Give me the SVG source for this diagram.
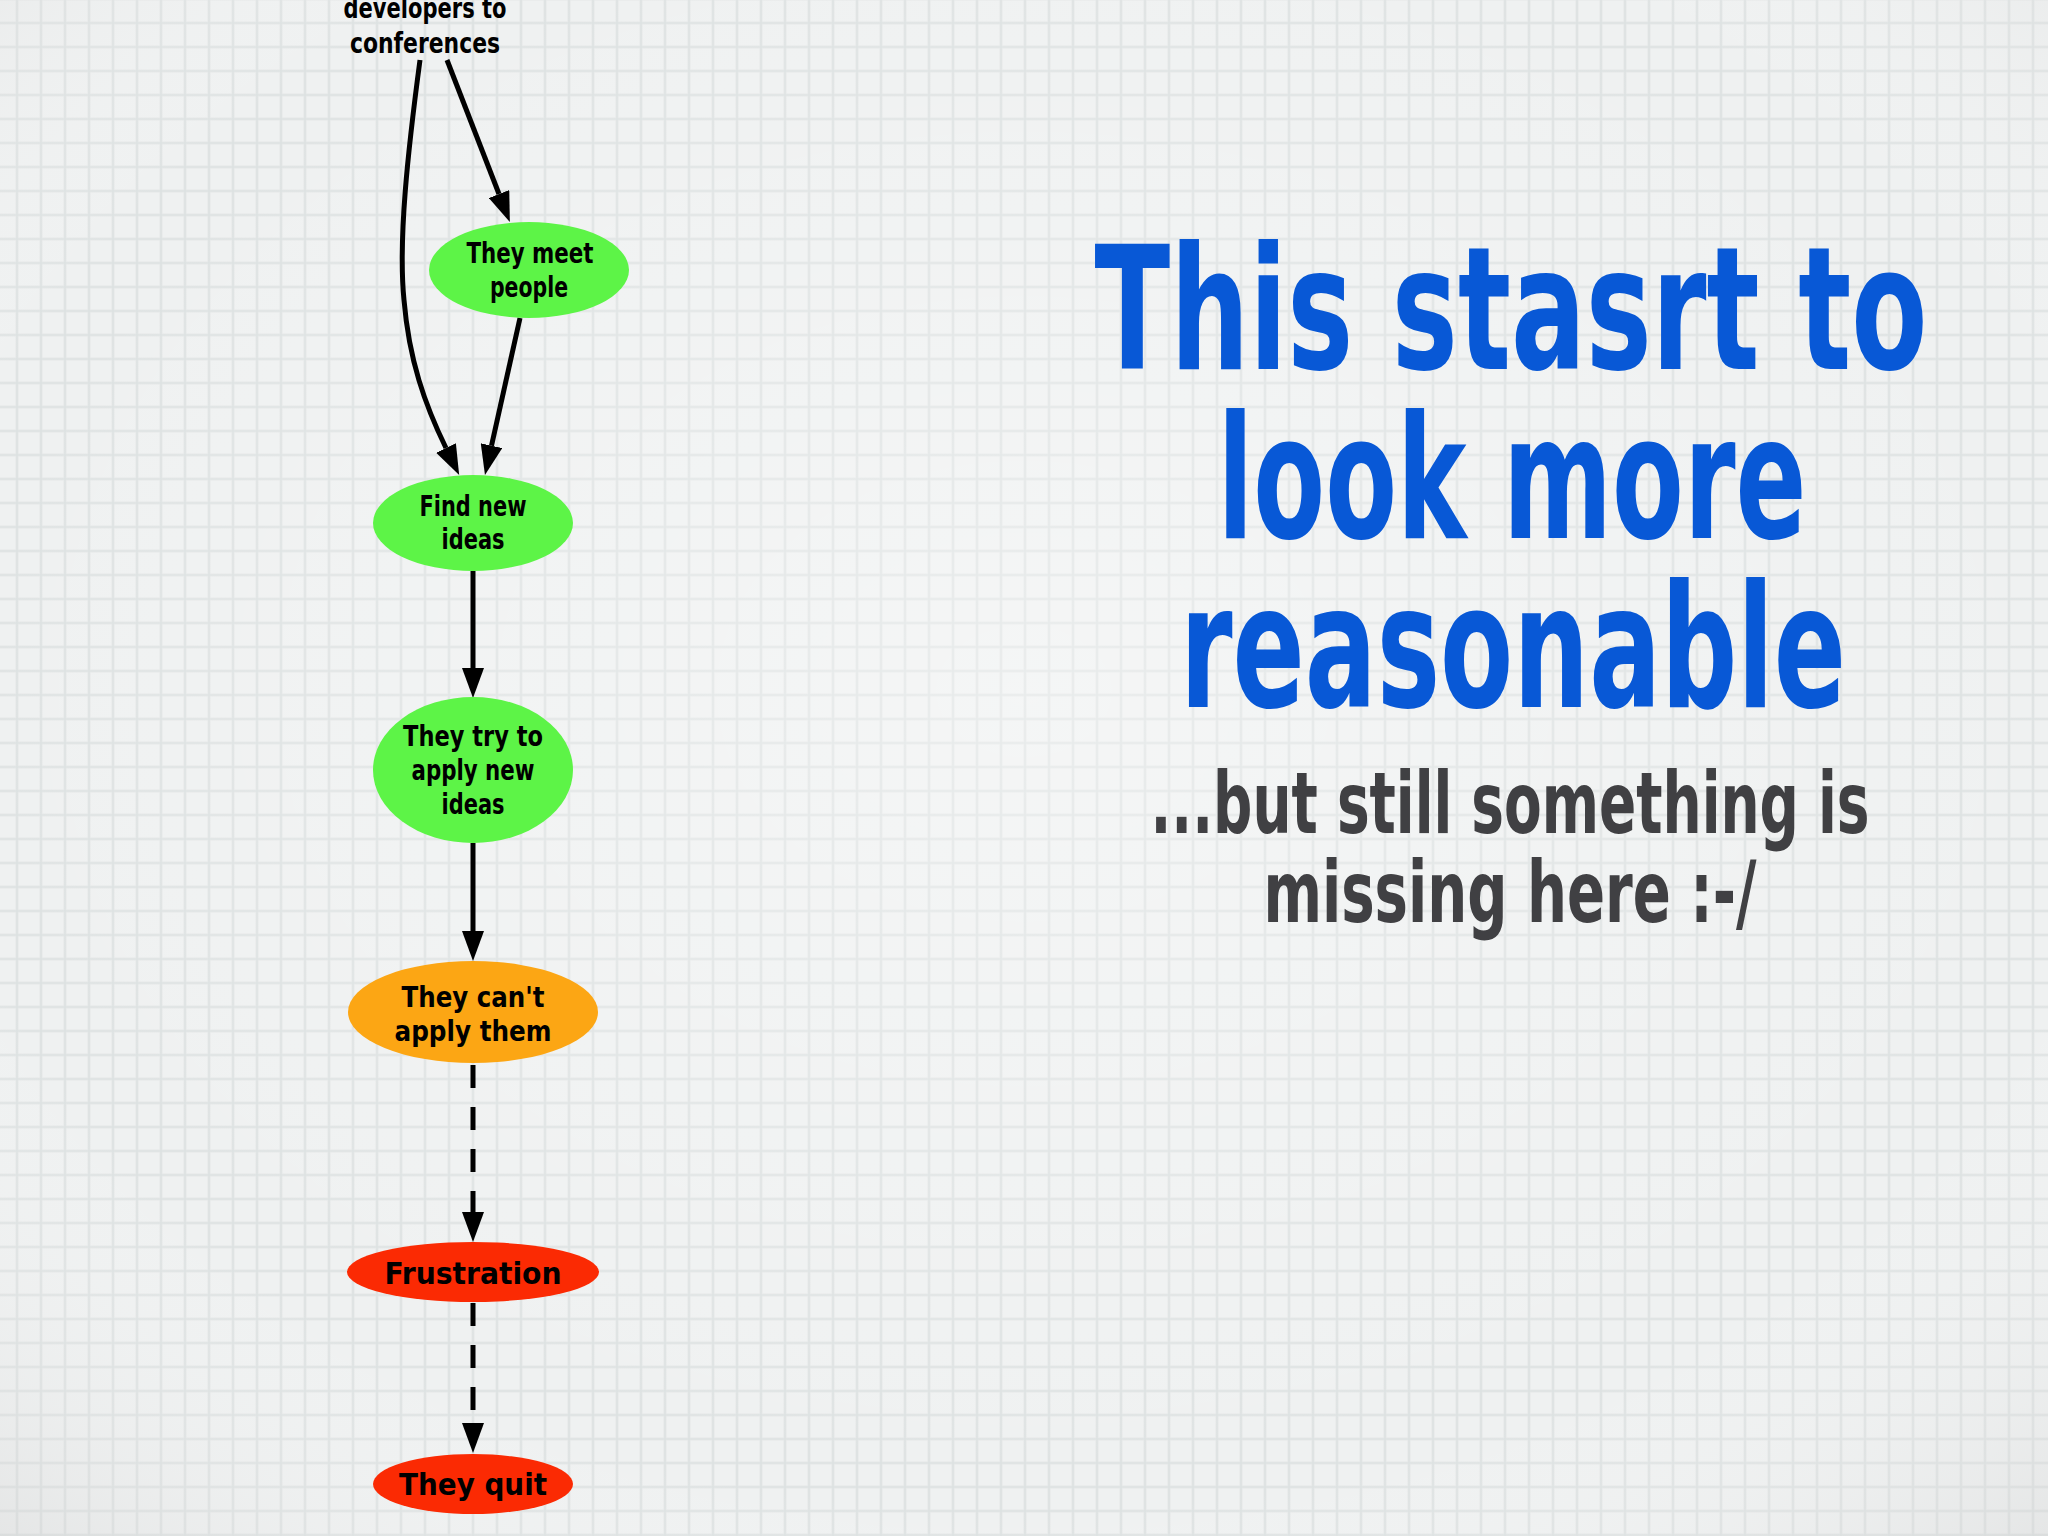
<svg xmlns="http://www.w3.org/2000/svg" width="2048" height="1536" viewBox="0 0 2048 1536">
<defs>
<pattern id="grid" x="17" y="23" width="24" height="24" patternUnits="userSpaceOnUse">
<path d="M0,-2 V26 M24,-2 V26 M-2,0 H26 M-2,24 H26" stroke="#e5e8e8" stroke-width="3" fill="none"/>
<path d="M0,-2 V26 M24,-2 V26 M-2,0 H26 M-2,24 H26" stroke="#dce1e1" stroke-width="1.2" fill="none"/>
</pattern>
<radialGradient id="vig" cx="50%" cy="45%" r="75%">
<stop offset="0" stop-color="#ffffff" stop-opacity="0.35"/>
<stop offset="0.7" stop-color="#ffffff" stop-opacity="0"/>
<stop offset="1" stop-color="#cfcfcf" stop-opacity="0.35"/>
</radialGradient>
<marker id="ah" viewBox="0 0 30 22" refX="0" refY="11" markerWidth="30" markerHeight="22" markerUnits="userSpaceOnUse" orient="auto">
<path d="M0,0 L30,11 L0,22 z" fill="#000"/>
</marker>
<style>
.edge{fill:none;stroke:#000;stroke-width:5;marker-end:url(#ah)}
.dash{stroke-dasharray:23 19}
.lbl{font-family:"DejaVu Sans Condensed","DejaVu Sans","Liberation Sans",sans-serif;font-stretch:condensed;font-weight:bold;font-size:29px;fill:#000;text-anchor:middle}
.big{font-size:31px}
.green{fill:#5df447}
.orange{fill:#fca614}
.red{fill:#fb2a03}
.title{font-family:"DejaVu Sans Condensed","DejaVu Sans","Liberation Sans",sans-serif;font-stretch:condensed;font-weight:bold;font-size:172px;fill:#0858d6;text-anchor:middle}
.sub{font-family:"DejaVu Sans Condensed","DejaVu Sans","Liberation Sans",sans-serif;font-stretch:condensed;font-weight:bold;font-size:86px;fill:#404043;text-anchor:middle}
</style>
</defs>
<rect width="2048" height="1536" fill="#eff1f1"/>
<rect width="2048" height="1536" fill="url(#grid)"/>
<rect width="2048" height="1536" fill="url(#vig)"/>

<g id="connectors">
<path class="edge" d="M420,60 C408,150 398,240 404,300 C409,360 425,405 446,448"/>
<path class="edge" d="M447,60 L499,194"/>
<path class="edge" d="M520,318 L491.5,445.7"/>
<path class="edge" d="M473,571 L473,668"/>
<path class="edge" d="M473,843 L473,931"/>
<path class="edge dash" d="M473,1065 L473,1212"/>
<path class="edge dash" d="M473,1303 L473,1423"/>
</g>

<g id="start">
<text class="lbl" x="425" y="18" textLength="163" lengthAdjust="spacingAndGlyphs">developers to</text>
<text class="lbl" x="425" y="53" textLength="150" lengthAdjust="spacingAndGlyphs">conferences</text>
</g>
<g id="meet">
<ellipse class="green" cx="529" cy="270" rx="100" ry="48"/>
<text class="lbl" x="530" y="263" textLength="127" lengthAdjust="spacingAndGlyphs">They meet</text>
<text class="lbl" x="529" y="297" textLength="78" lengthAdjust="spacingAndGlyphs">people</text>
</g>
<g id="find">
<ellipse class="green" cx="473" cy="523" rx="100" ry="48"/>
<text class="lbl" x="473" y="516" textLength="107" lengthAdjust="spacingAndGlyphs">Find new</text>
<text class="lbl" x="473" y="549" textLength="63" lengthAdjust="spacingAndGlyphs">ideas</text>
</g>
<g id="try">
<ellipse class="green" cx="473" cy="770" rx="100" ry="73"/>
<text class="lbl" x="473" y="746" textLength="140" lengthAdjust="spacingAndGlyphs">They try to</text>
<text class="lbl" x="473" y="780" textLength="123" lengthAdjust="spacingAndGlyphs">apply new</text>
<text class="lbl" x="473" y="814" textLength="63" lengthAdjust="spacingAndGlyphs">ideas</text>
</g>
<g id="cant">
<ellipse class="orange" cx="473" cy="1012" rx="125" ry="51"/>
<text class="lbl" x="473" y="1007" textLength="143" lengthAdjust="spacingAndGlyphs">They can't</text>
<text class="lbl" x="473" y="1041" textLength="157" lengthAdjust="spacingAndGlyphs">apply them</text>
</g>
<g id="frustration">
<ellipse class="red" cx="473" cy="1272" rx="126" ry="30"/>
<text class="lbl big" x="473" y="1284" textLength="177" lengthAdjust="spacingAndGlyphs">Frustration</text>
</g>
<g id="quit">
<ellipse class="red" cx="473" cy="1484" rx="100" ry="30"/>
<text class="lbl big" x="473" y="1495" textLength="148" lengthAdjust="spacingAndGlyphs">They quit</text>
</g>

<g id="title">
<text class="title" x="1511" y="369" textLength="833" lengthAdjust="spacingAndGlyphs">This stasrt to</text>
<text class="title" x="1512" y="538" textLength="589" lengthAdjust="spacingAndGlyphs">look more</text>
<text class="title" x="1513" y="707" textLength="666" lengthAdjust="spacingAndGlyphs">reasonable</text>
</g>
<g id="subtitle">
<text class="sub" x="1510" y="833" textLength="719" lengthAdjust="spacingAndGlyphs">...but still something is</text>
<text class="sub" x="1510" y="922" textLength="493" lengthAdjust="spacingAndGlyphs">missing here :-/</text>
</g>
</svg>
